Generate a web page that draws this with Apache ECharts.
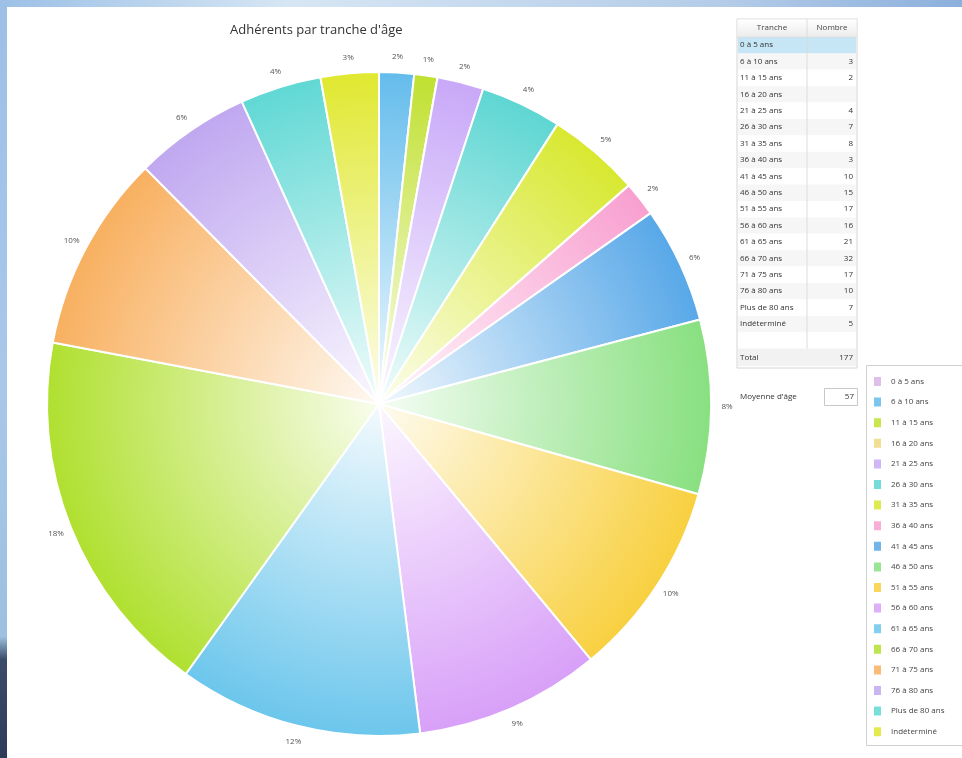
<!DOCTYPE html>
<html>
<head>
<meta charset="utf-8">
<script src="https://cdn.jsdelivr.net/npm/echarts@6/dist/echarts.min.js"></script>
<style>
    html, body { margin: 0; padding: 0; background: #fff; }
    #chart { width: 962px; height: 758px; }
</style>
</head>
<body>
<div id="chart"></div>
<script>
const titre = "Adhérents par tranche d'âge"
const tranches = [
    '0 à 5 ans', '6 à 10 ans', '11 à 15 ans', '16 à 20 ans', '21 à 25 ans', '26 à 30 ans',
    '31 à 35 ans', '36 à 40 ans', '41 à 45 ans', '46 à 50 ans', '51 à 55 ans', '56 à 60 ans',
    '61 à 65 ans', '66 à 70 ans', '71 à 75 ans', '76 à 80 ans', 'Plus de 80 ans', 'Indéterminé'
]
// cases vides dans le tableau -> null
const nombres = [null, 3, 2, null, 4, 7, 8, 3, 10, 15, 17, 16, 21, 32, 17, 10, 7, 5]
const couleurs = [
    '#d8b4e8', '#64bcec', '#c0e030', '#f0d880', '#c8a8f8', '#5ed6d2',
    '#d8e830', '#f8a0d0', '#58a8e8', '#88e080', '#f8d040', '#d8a0f8',
    '#6cc6ec', '#b0e030', '#f8b060', '#c0a8f0', '#60d8d4', '#e0e830'
]
const enTetes = ['Tranche', 'Nombre']
const libelleTotal = 'Total'
const libelleMoyenne = "Moyenne d'âge"
const moyenneAge = 57

const police = '"Open Sans", "Noto Sans", sans-serif'
const centre = [379, 404]
const rayon = 332

// mélange avec du blanc
function eclaircir(hex, t) {
    const n = parseInt(hex.slice(1), 16)
    const r = (n >> 16) & 255, g = (n >> 8) & 255, b = n & 255
    const m = v => Math.round(v + (255 - v) * t)
    return `rgb(${m(r)},${m(g)},${m(b)})`
}

function degrade(c) {
    return {
        type: 'radial', x: centre[0], y: centre[1], r: rayon, global: true,
        colorStops: [
            { offset: 0, color: eclaircir(c, 0.92) },
            { offset: 0.45, color: eclaircir(c, 0.5) },
            { offset: 1, color: c }
        ]
    }
}

const total = nombres.reduce((s, v) => s + (v || 0), 0)

// tableau à droite
const tabX = 737, tabW = 120, colX = 807
const hautLigne = 16.4, debutLignes = 37
const tableau = []
tableau.push({ type: 'rect', shape: { x: tabX, y: 19, width: tabW, height: 349 }, style: { fill: '#fff', stroke: '#d4d4d4', lineWidth: 1 } })
tableau.push({
    type: 'rect', shape: { x: tabX + 0.5, y: 19.5, width: tabW - 1, height: 17 },
    style: { fill: { type: 'linear', x: 0, y: 0, x2: 0, y2: 1, colorStops: [{ offset: 0, color: '#ffffff' }, { offset: 1, color: '#ececec' }] } }
})
tranches.forEach((t, i) => {
    const y = debutLignes + i * hautLigne
    let fond = i % 2 === 1 ? '#f6f6f6' : '#ffffff'
    if (i === 0) fond = '#c6e5f5'
    tableau.push({ type: 'rect', shape: { x: tabX + 1, y: y, width: tabW - 2, height: hautLigne }, style: { fill: fond } })
    tableau.push({ type: 'text', x: tabX + 3, y: y + hautLigne / 2, style: { text: t, font: '8px ' + police, fill: '#333', verticalAlign: 'middle' } })
    tableau.push({ type: 'text', x: tabX + tabW - 4, y: y + hautLigne / 2, style: { text: nombres[i] == null ? '' : String(nombres[i]), font: '8px ' + police, fill: '#333', align: 'right', verticalAlign: 'middle' } })
})
const yTotal = debutLignes + (tranches.length + 1) * hautLigne
tableau.push({ type: 'rect', shape: { x: tabX + 1, y: yTotal, width: tabW - 2, height: hautLigne + 1 }, style: { fill: '#f2f2f2' } })
tableau.push({ type: 'line', shape: { x1: colX, y1: 19, x2: colX, y2: yTotal }, style: { stroke: '#dcdcdc', lineWidth: 1 } })
tableau.push({ type: 'line', shape: { x1: tabX, y1: 37, x2: tabX + tabW, y2: 37 }, style: { stroke: '#dcdcdc', lineWidth: 1 } })
tableau.push({ type: 'text', x: (tabX + colX) / 2, y: 28, style: { text: enTetes[0], font: '8px ' + police, fill: '#444', align: 'center', verticalAlign: 'middle' } })
tableau.push({ type: 'text', x: (colX + tabX + tabW) / 2, y: 28, style: { text: enTetes[1], font: '8px ' + police, fill: '#444', align: 'center', verticalAlign: 'middle' } })
tableau.push({ type: 'text', x: tabX + 3, y: yTotal + hautLigne / 2 + 1, style: { text: libelleTotal, font: '8px ' + police, fill: '#333', verticalAlign: 'middle' } })
tableau.push({ type: 'text', x: tabX + tabW - 4, y: yTotal + hautLigne / 2 + 1, style: { text: String(total), font: '8px ' + police, fill: '#333', align: 'right', verticalAlign: 'middle' } })
// moyenne d'âge
tableau.push({ type: 'text', x: 740, y: 397, style: { text: libelleMoyenne, font: '8px ' + police, fill: '#333', verticalAlign: 'middle' } })
tableau.push({ type: 'rect', shape: { x: 824.5, y: 388.5, width: 33, height: 17 }, style: { fill: '#fff', stroke: '#c8c8c8', lineWidth: 1 } })
tableau.push({ type: 'text', x: 854, y: 397, style: { text: String(moyenneAge), font: '8px ' + police, fill: '#333', align: 'right', verticalAlign: 'middle' } })

const chart = echarts.init(document.getElementById('chart'), null, { renderer: 'canvas' })

const options = {
    backgroundColor: '#ffffff',
    animation: false,
    title: {
        text: titre,
        left: 230,
        top: 24,
        padding: 0,
        textStyle: { fontFamily: police, fontSize: 13, fontWeight: 'normal', color: '#333' }
    },
    legend: {
        orient: 'vertical',
        left: 872,
        top: 375,
        height: 380,
        padding: 0,
        itemWidth: 9,
        itemHeight: 11,
        itemGap: 7.6,
        icon: 'rect',
        selectedMode: false,
        textStyle: { fontFamily: police, fontSize: 8, color: '#444', padding: [0, 0, 0, 4] },
        data: tranches.map((t, i) => ({ name: t, itemStyle: { color: eclaircir(couleurs[i], 0.15) } }))
    },
    graphic: [
        // bandeaux du bureau (capture d'écran)
        {
            type: 'rect', shape: { x: 0, y: 0, width: 962, height: 7 }, silent: true,
            style: { fill: { type: 'linear', x: 0, y: 0, x2: 1, y2: 0, colorStops: [{ offset: 0, color: '#9cc0e6' }, { offset: 0.3, color: '#d6e6f4' }, { offset: 0.75, color: '#b4cce8' }, { offset: 1, color: '#8cb0dc' }] } }
        },
        {
            type: 'rect', shape: { x: 0, y: 0, width: 7, height: 758 }, silent: true,
            style: { fill: { type: 'linear', x: 0, y: 0, x2: 0, y2: 1, colorStops: [{ offset: 0, color: '#9cc0e6' }, { offset: 0.5, color: '#a8c8ea' }, { offset: 0.84, color: '#9cc0e0' }, { offset: 0.87, color: '#3a4c6a' }, { offset: 1, color: '#2c3c58' }] } }
        },
        // cadre de la légende
        { type: 'rect', shape: { x: 866.5, y: 365.5, width: 100, height: 380 }, style: { fill: '#fff', stroke: '#d0d0d0', lineWidth: 1 }, z: -1 },
        ...tableau
    ],
    series: [
        {
            type: 'pie',
            center: centre,
            radius: rayon,
            startAngle: 90,
            clockwise: true,
            avoidLabelOverlap: false,
            emphasis: { scale: false },
            itemStyle: { borderColor: '#ffffff', borderWidth: 2 },
            label: {
                position: 'outside',
                fontFamily: police,
                fontSize: 8,
                color: '#555',
                distanceToLabelLine: 0,
                formatter: p => Math.round(p.percent) + '%'
            },
            labelLine: { show: false, length: 16, length2: 0 },
            labelLayout: () => ({ align: 'center', verticalAlign: 'middle' }),
            data: tranches.map((t, i) => ({
                name: t,
                value: nombres[i] || 0,
                itemStyle: { color: degrade(couleurs[i]) },
                label: { show: nombres[i] != null }
            }))
        }
    ]
}

chart.setOption(options)
</script>
</body>
</html>
